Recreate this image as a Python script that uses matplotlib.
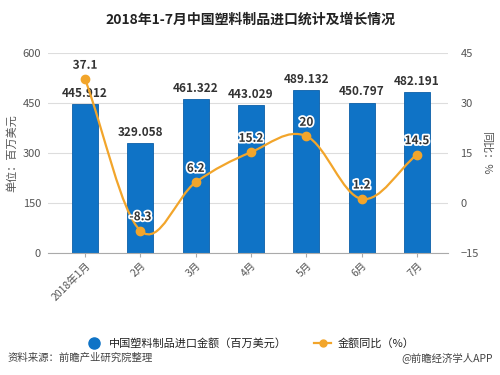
import matplotlib
matplotlib.use("Agg")
import matplotlib.pyplot as plt
import matplotlib.patheffects as pe
from matplotlib.path import Path
from matplotlib.patches import PathPatch
from matplotlib.lines import Line2D
import numpy as np

plt.rcParams['font.family'] = ['Noto Sans CJK SC', 'DejaVu Sans']

meses = ["2018年1月", "2月", "3月", "4月", "5月", "6月", "7月"]
valores = [445.912, 329.058, 461.322, 443.029, 489.132, 450.797, 482.191]
rotulos_valores = ["445.912", "329.058", "461.322", "443.029", "489.132", "450.797", "482.191"]
crescimento = [37.1, -8.3, 6.2, 15.2, 20, 1.2, 14.5]

azul = "#0f73c6"
laranja = "#f2a52b"
cinza = "#555555"

fig = plt.figure(figsize=(5, 3.75), dpi=100)
ax = fig.add_axes([0.096, 0.3253, 0.80, 0.5342])
ax2 = ax.twinx()

x = np.arange(len(meses))
ax.bar(x, valores, width=0.47, color=azul, edgecolor="#0b5fa8", linewidth=0.6, zorder=2)
for xi, v, r in zip(x, valores, rotulos_valores):
    ax.text(xi, v + 12, r, ha="center", va="bottom", fontsize=8.5, color="#333333",
            fontweight="bold", zorder=5)

ax.set_xlim(-0.67, 6.56)
ax.set_ylim(0, 600)
ax.set_yticks([0, 150, 300, 450, 600])
ax.set_xticks(x)
ax.set_xticklabels(meses, rotation=45, ha="right", rotation_mode="anchor",
                   fontsize=7.5, color=cinza)
ax.tick_params(axis="x", length=3, color="#aaaaaa", pad=2)
ax.tick_params(axis="y", length=0, labelsize=8, colors=cinza, pad=5)
ax.grid(axis="y", color="#dddddd", linewidth=0.8, zorder=0)
ax.set_axisbelow(True)
for s in ["top", "right", "left"]:
    ax.spines[s].set_visible(False)
ax.spines["bottom"].set_color("#aaaaaa")
ax.set_ylabel("单位：百万美元", fontsize=8, color=cinza, labelpad=4)

# linha suavizada (Catmull-Rom -> Bezier)
ax2.set_ylim(-15, 45)
ax2.set_yticks([-15, 0, 15, 30, 45])
ax2.tick_params(axis="y", length=0, labelsize=8, colors=cinza, pad=9)
for s in ax2.spines.values():
    s.set_visible(False)
ax2.set_ylabel("同比：%", fontsize=8, color=cinza, rotation=270, labelpad=9)

pts = np.column_stack([x, crescimento]).astype(float)
verts = [pts[0]]
codes = [Path.MOVETO]
t = 0.35
for i in range(len(pts) - 1):
    p0 = pts[i - 1] if i > 0 else pts[i]
    p1 = pts[i]
    p2 = pts[i + 1]
    p3 = pts[i + 2] if i + 2 < len(pts) else pts[i + 1]
    c1 = p1 + (p2 - p0) * t / 2 * (1 if i > 0 else 2)
    c2 = p2 - (p3 - p1) * t / 2 * (1 if i + 2 < len(pts) else 2)
    verts += [c1, c2, p2]
    codes += [Path.CURVE4] * 3
ax2.add_patch(PathPatch(Path(verts, codes), facecolor="none", edgecolor=laranja,
                        linewidth=1.6, zorder=3))
ax2.plot(x, crescimento, "o", color=laranja, markersize=6, zorder=4)
for xi, c in zip(x, crescimento):
    ax2.text(xi, c + 2.2, f"{c:g}", ha="center", va="bottom", fontsize=8.5,
             color="#333333", fontweight="bold", zorder=6,
             path_effects=[pe.withStroke(linewidth=2.5, foreground="white")])

fig.suptitle("2018年1-7月中国塑料制品进口统计及增长情况", y=0.965, fontsize=10,
             fontweight="bold", color="#222222")

handles = [
    Line2D([], [], marker="o", color=azul, linestyle="none", markersize=8),
    Line2D([], [], marker="o", color=laranja, linewidth=1.6, markersize=5),
]
fig.legend(handles, ["中国塑料制品进口金额（百万美元）", "金额同比（%）"],
           loc="center", bbox_to_anchor=(0.5, 0.085), ncol=2, frameon=False,
           fontsize=8, handlelength=1.5, columnspacing=2.5, handletextpad=0.6,
           labelcolor="#222222")

fig.text(0.016, 0.047, "资料来源：前瞻产业研究院整理", fontsize=7.5, color="#444444",
         style="italic", va="center", ha="left")
fig.text(0.985, 0.047, "@前瞻经济学人APP", fontsize=7.5, color="#444444",
         va="center", ha="right")

fig.savefig("out.png", dpi=100)
